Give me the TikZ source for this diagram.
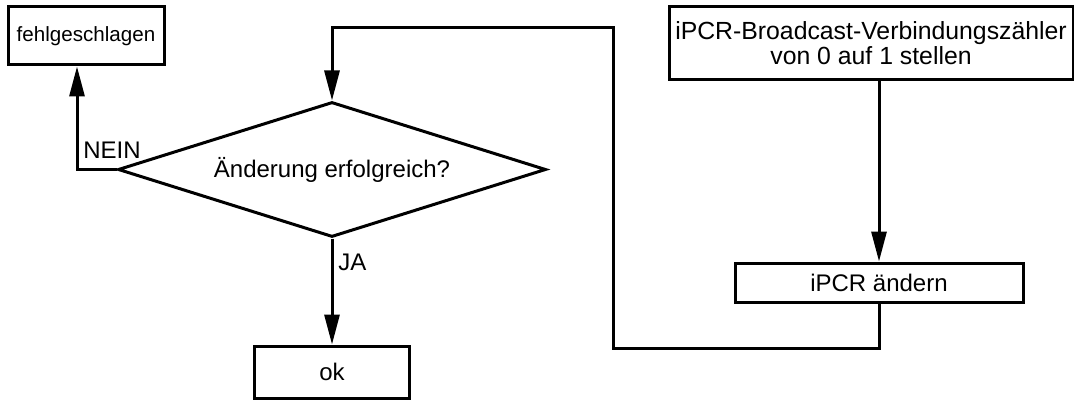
\documentclass[tikz,border=0pt]{standalone}
\usepackage{fontspec}
\setmainfont{Liberation Sans}
\usetikzlibrary{shapes.geometric,arrows.meta}
\tikzset{
  box/.style={draw=black,line width=1.5pt,inner sep=0pt,align=center},
  flow/.style={line width=1.5pt,-{Triangle[length=15pt,width=7.5pt]}},
}
\begin{document}
\begin{tikzpicture}[x=0.5pt,y=-0.5pt,font=\fontsize{12}{13}\selectfont]
\useasboundingbox (0,0) rectangle (1074,401);

%boxes
\node[box,minimum width=78pt,minimum height=29pt,font=\fontsize{10.3}{12}\selectfont] (fail) at (86,36) {fehlgeschlagen};
\node[box,diamond,aspect=3.17,minimum width=214pt,minimum height=67.5pt] (dec) at (332,169.5) {\raisebox{2pt}{Änderung erfolgreich?}};
\node[box,minimum width=77.5pt,minimum height=26pt] (ok) at (332,372) {ok};
\node[box,minimum width=202pt,minimum height=36.5pt,font=\fontsize{12.4}{11.5}\selectfont] (zaehler) at (871,43.5) {iPCR-Broadcast-Verbindungszähler\\von 0 auf 1 stellen};
\node[box,minimum width=144pt,minimum height=19.5pt] (ipcr) at (879,282.5) {iPCR ändern};

%loop back
\coordinate (loopbot) at (613,348);
\coordinate (looptop) at (613,28);

%arrows
\draw[flow] (ipcr.north |- zaehler.south) -- (ipcr.north);
\draw[flow] (ipcr.south) |- (loopbot) -- (looptop) -| (dec.north);
\draw[flow] (dec.west) -| ([xshift=-4.5pt]fail.south);
\draw[flow] (dec.south) -- (ok.north);

%text
\node[anchor=base west,inner sep=0pt] (nein) at (83,158) {NEIN};
\node[anchor=base west,inner sep=0pt] (ja) at (338,270) {JA};
\end{tikzpicture}
\end{document}
